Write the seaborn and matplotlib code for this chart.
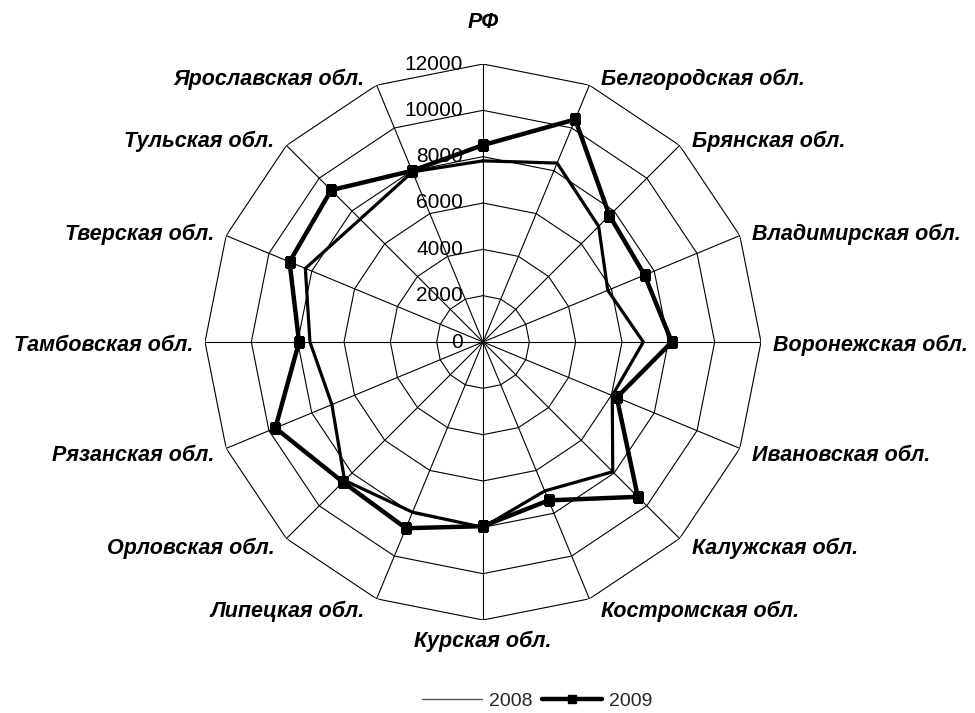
import numpy as np
import pandas as pd
import seaborn as sns
import matplotlib.pyplot as plt
from matplotlib.lines import Line2D

sns.set_theme(style="white")
plt.rcParams['font.family'] = ['Liberation Sans', 'DejaVu Sans']

# Regions (clockwise from top)
regions = ["РФ", "Белгородская обл.", "Брянская обл.", "Владимирская обл.",
           "Воронежская обл.", "Ивановская обл.", "Калужская обл.",
           "Костромская обл.", "Курская обл.", "Липецкая обл.", "Орловская обл.",
           "Рязанская обл.", "Тамбовская обл.", "Тверская обл.", "Тульская обл.",
           "Ярославская обл."]
v2008 = [7820, 8360, 7060, 5830, 6920, 6040, 7920, 6960,
         8000, 7950, 8450, 7060, 7470, 8300, 7500, 7950]
v2009 = [8500, 10400, 7720, 7550, 8150, 6250, 9450, 7400,
         7950, 8700, 8550, 9700, 7940, 9040, 9270, 8000]
ticks = [0, 2000, 4000, 6000, 8000, 10000, 12000]

n = len(regions)
theta = np.arange(n) * 2 * np.pi / n
closed = np.append(theta, 2 * np.pi)

df08 = pd.DataFrame({"theta": closed, "value": v2008 + v2008[:1]})
df09 = pd.DataFrame({"theta": closed, "value": v2009 + v2009[:1]})

fig = plt.figure(figsize=(9.75, 7.13), dpi=100)
cx, cy, rad = 483 / 975, (713 - 342) / 713, 278
ax = fig.add_axes([cx - rad / 975, cy - rad / 713, 2 * rad / 975, 2 * rad / 713],
                  projection="polar")
ax.set_theta_zero_location("N")
ax.set_theta_direction(-1)
ax.set_ylim(0, 12000)
ax.grid(False)
ax.spines["polar"].set_visible(False)
ax.set_xticks([])
ax.set_yticks([])
ax.patch.set_alpha(0)

# polygon grid
for lvl in ticks[1:]:
    ax.plot(closed, [lvl] * (n + 1), color="black", lw=0.8, zorder=1)
for t in theta:
    ax.plot([t, t], [0, 12000], color="black", lw=0.8, zorder=1)

sns.lineplot(data=df08, x="theta", y="value", ax=ax, sort=False, color="black",
             lw=2.3, zorder=3)
sns.lineplot(data=df09, x="theta", y="value", ax=ax, sort=False, color="black",
             lw=3.2, marker="s", markersize=6.5, markeredgecolor="black", zorder=4)
ax.set_xlabel("")
ax.set_ylabel("")
ax.set_ylim(0, 12000)

for lvl in ticks:
    ax.annotate(f"{lvl}", xy=(0, lvl), xytext=(-20, 0), textcoords="offset pixels",
                ha="right", va="center", fontsize=15, color="black")

for t, name in zip(theta, regions):
    s, c = np.sin(t), np.cos(t)
    if abs(s) < 0.1:
        ha = "center"
        dx = 0
        dy = 42 if c > 0 else -21
    else:
        ha = "left" if s > 0 else "right"
        dx = 12 if s > 0 else -12
        dy = 10 * c - 3
    ax.annotate(name, xy=(t, 12000), xytext=(dx, dy), textcoords="offset pixels",
                ha=ha, va="center", fontsize=15.5, fontweight="bold",
                fontstyle="italic", color="black", annotation_clip=False)

handles = [Line2D([], [], color="#555555", lw=1),
           Line2D([], [], color="black", lw=3.2, marker="s", markersize=6)]
fig.legend(handles, ["2008", "2009"], loc="lower center",
           bbox_to_anchor=(0.551, -0.02), ncol=2, frameon=False, fontsize=14,
           handlelength=3.1, columnspacing=0.5, handletextpad=0.35)

plt.savefig("out.png", dpi=100)
